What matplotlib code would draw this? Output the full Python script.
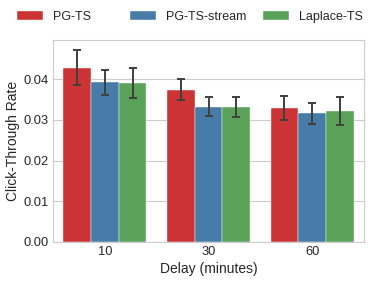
import numpy as np
import matplotlib
matplotlib.use("Agg")
import matplotlib.pyplot as plt
import seaborn as sns

delays = ["10", "30", "60"]
methods = ["PG-TS", "PG-TS-stream", "Laplace-TS"]
ctr = {
    "PG-TS": [0.0429, 0.0374, 0.0329],
    "PG-TS-stream": [0.0393, 0.0333, 0.0316],
    "Laplace-TS": [0.0390, 0.0331, 0.0321],
}
ci_low = {
    "PG-TS": [0.0387, 0.0348, 0.0301],
    "PG-TS-stream": [0.0361, 0.0311, 0.0291],
    "Laplace-TS": [0.0354, 0.0307, 0.0287],
}
ci_high = {
    "PG-TS": [0.0472, 0.0401, 0.0358],
    "PG-TS-stream": [0.0424, 0.0356, 0.0342],
    "Laplace-TS": [0.0427, 0.0356, 0.0356],
}

sns.set_style("whitegrid")
plt.rcParams['font.family'] = ['Liberation Sans', 'DejaVu Sans']
colors = sns.color_palette("Set1", 3, desat=0.75)

fig = plt.figure(figsize=(3.74, 2.83), dpi=100)
ax = fig.add_axes([0.142, 0.145, 0.831, 0.714])

x = np.arange(len(delays))
w = 0.8 / len(methods)
handles = []
for i, m in enumerate(methods):
    pos = x - 0.4 + w * (i + 0.5)
    vals = np.array(ctr[m])
    yerr = [vals - np.array(ci_low[m]), np.array(ci_high[m]) - vals]
    b = ax.bar(pos, vals, width=w, color=colors[i], label=m, edgecolor="white", linewidth=0.3)
    handles.append(b)
    ax.errorbar(pos, vals, yerr=yerr, fmt="none", ecolor="#3f3f3f",
                elinewidth=1.4, capsize=2.7, capthick=1.4)

ax.set_xlim(-0.5, 2.5)
ax.set_ylim(0, 0.0497)
ax.set_xticks(x)
ax.set_xticklabels(delays)
ax.set_yticks([0, 0.01, 0.02, 0.03, 0.04])
ax.set_yticklabels(["0.00", "0.01", "0.02", "0.03", "0.04"])
ax.xaxis.grid(False)
ax.tick_params(labelsize=9.3, length=0, pad=3, colors="#262626")
ax.set_xlabel("Delay (minutes)", fontsize=10, labelpad=3, color="#262626")
ax.set_ylabel("Click-Through Rate", fontsize=10, labelpad=3, color="#262626")
for s in ax.spines.values():
    s.set_color("#cccccc")

# one legend entry per method, placed along the top
leg_x = [17 / 374, 130 / 374, 263 / 374]
for h, m, lx in zip(handles, methods, leg_x):
    fig.legend([h], [m], loc="center left", bbox_to_anchor=(lx, 1 - 17 / 283),
               frameon=False, fontsize=9, handlelength=2.1, handleheight=0.75,
               borderaxespad=0, borderpad=0, handletextpad=0.75)

fig.savefig("out.png", dpi=100)
